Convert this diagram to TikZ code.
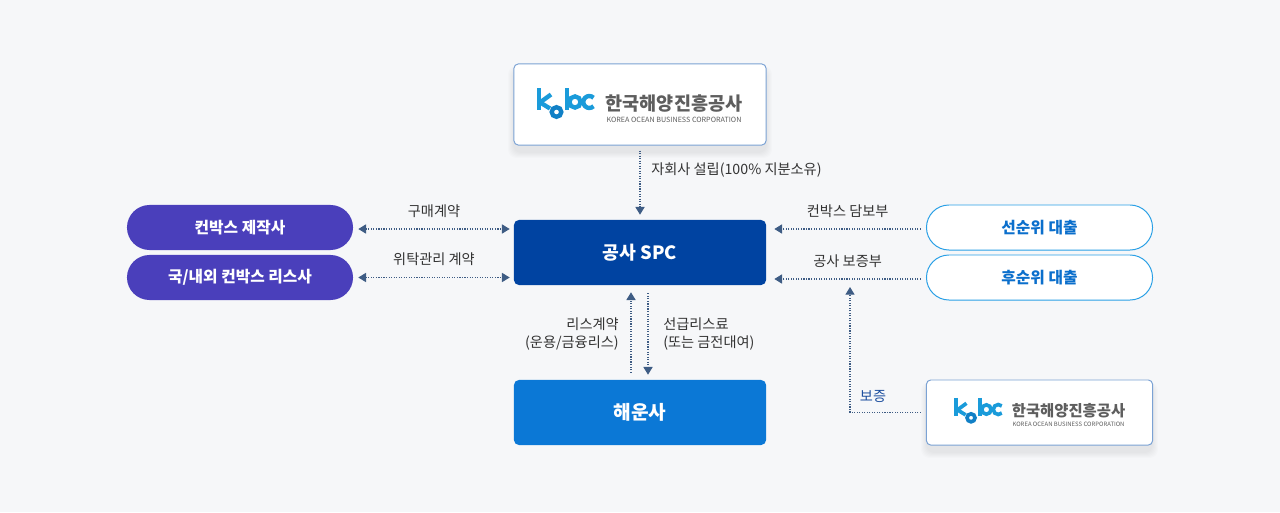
\documentclass[tikz,border=0pt]{standalone}
\usepackage{fontspec}
\setmainfont{Noto Sans CJK KR}
\usetikzlibrary{arrows.meta,calc,positioning}
\definecolor{bgcol}{HTML}{F6F7F9}
\definecolor{purplecol}{HTML}{4A3FBB}
\definecolor{spccol}{HTML}{0043A1}
\definecolor{shipcol}{HTML}{0B78D6}
\definecolor{lblcol}{HTML}{333333}
\definecolor{arrcol}{HTML}{3E5C84}
\definecolor{loancol}{HTML}{0B6FCC}
\definecolor{loanline}{HTML}{2AA0E6}
\definecolor{kobcline}{HTML}{7BA2D4}
\definecolor{kobcblue}{HTML}{1A9BDA}
\definecolor{kobcdeep}{HTML}{1180C6}
\definecolor{kobcgray}{HTML}{5E5E5E}
\definecolor{guarcol}{HTML}{1C4E9E}
\tikzset{
  kobc line/.style={line width=3.1pt},
  kobc/.pic={
    \begin{scope}[kobcblue,kobc line]
      \draw (-100.3,-17) -- (-100.3,4.5);
      \draw (-99,-2.5) -- (-88,-10.5);
      \draw (-98,-2) -- (-89,3.5);
      \draw[kobcdeep] (-82.5,7) circle (4.8);
      \draw (-72,-17) -- (-72,4.5);
      \draw (-64,-3) circle (5.6);
      \draw (-49.7,-3) ++(45:6) arc (45:315:6);
    \end{scope}
    \node[transform shape,inner sep=0pt,text=kobcgray,font=\bfseries\fontsize{13.2}{15}\selectfont] at (35,-1) {한국해양진흥공사};
    \node[transform shape,inner sep=0pt,text=kobcgray,font=\fontsize{5.1}{6}\selectfont] at (35,14.5) {KOREA OCEAN BUSINESS CORPORATION};
  }
}
\begin{document}
\begin{tikzpicture}[x=0.025cm,y=-0.025cm,
  >={Triangle[width=6.5pt,length=5.5pt]},
  box/.style={inner sep=0pt,rounded corners=3.5pt,text=white,minimum width=6.3cm,minimum height=1.625cm},
  pill/.style={inner sep=0pt,rounded corners=0.5625cm,minimum width=5.65cm,minimum height=1.125cm,font=\bfseries\fontsize{11.2}{13}\selectfont},
  logobox/.style={fill=white,draw=kobcline,line width=0.7pt,rounded corners=3pt,inner sep=0pt},
  lbl/.style={text=lblcol,font=\fontsize{10.1}{12.8}\selectfont,inner sep=0pt},
  flow/.style={draw=arrcol,line width=0.8pt,dash pattern=on 0.8pt off 1pt}]
\fill[bgcol] (0,0) rectangle (1280,512);
% soft shadows under the logo boxes
\foreach \s in {2,4,...,12}{
  \fill[black,opacity=0.012,rounded corners=6pt] (514-\s/2,70-\s/3) rectangle (766+\s/2,152+\s/2);
  \fill[black,opacity=0.012,rounded corners=6pt] (927-\s/2,386-\s/3) rectangle (1152+\s/2,452+\s/2);
}
% boxes
\node[logobox,minimum width=6.3cm,minimum height=2.025cm] (top) at (640,104.5) {};
\pic at (639,105) {kobc};
\node[box,fill=spccol,font=\bfseries\fontsize{13}{15}\selectfont] (spc) at (640,252.5) {공사 SPC};
\node[box,fill=shipcol,font=\bfseries\fontsize{13.6}{15}\selectfont] (ship) at (640,412.5) {해운사};
\node[pill,fill=purplecol,text=white] (maker) at (240,227.5) {컨박스 제작사};
\node[pill,fill=purplecol,text=white] (lessor) at (240,277.5) {국/내외 컨박스 리스사};
\node[pill,fill=white,draw=loanline,line width=0.7pt,text=loancol] (senior) at (1039.5,227.5) {선순위 대출};
\node[pill,fill=white,draw=loanline,line width=0.7pt,text=loancol] (junior) at (1039.5,277.5) {후순위 대출};
\node[logobox,minimum width=5.65cm,minimum height=1.625cm] (guar) at (1039.5,412.5) {};
\pic[scale=0.83,kobc line/.style={line width=2.6pt}] at (1039.5,412) {kobc};
% connectors
\draw[flow,->] ($(top.south)+(0,5)$) -- ($(spc.north)+(0,-5)$);
\node[lbl,anchor=west] at (651,170) {자회사 설립(100\% 지분소유)};
\draw[flow,<->] ($(maker.east)+(5,1.5)$) -- node[lbl,above=8pt] {구매계약} ($(spc.west|-maker.east)+(-4,1.5)$);
\draw[flow,<->] ($(lessor.east)+(5,0)$) -- node[lbl,above=8pt] {위탁관리 계약} ($(spc.west|-lessor.east)+(-4,0)$);
\draw[flow,->] ($(senior.west)+(-5,1.5)$) -- node[lbl,above=8pt] {컨박스 담보부} ($(spc.east|-senior.west)+(8,1.5)$);
\draw[flow,->] ($(junior.west)+(-5,1.5)$) -- node[lbl,above=8pt] {공사 보증부} ($(spc.east|-junior.west)+(8,1.5)$);
\draw[flow,->] ($(ship.north)+(-9,-7)$) -- ($(spc.south)+(-9,7)$);
\draw[flow,->] ($(spc.south)+(8,8)$) -- ($(ship.north)+(8,-5)$);
\node[lbl,anchor=east,align=right] at (619,334) {리스계약\\(운용/금융리스)};
\node[lbl,anchor=west,align=left] at (663,334) {선급리스료\\(또는 금전대여)};
\coordinate (gtip) at (850,287);
\draw[flow,->] ($(guar.west)+(-5,0)$) -| (gtip);
\node[lbl,text=guarcol] at (873,396) {보증};
\end{tikzpicture}
\end{document}
